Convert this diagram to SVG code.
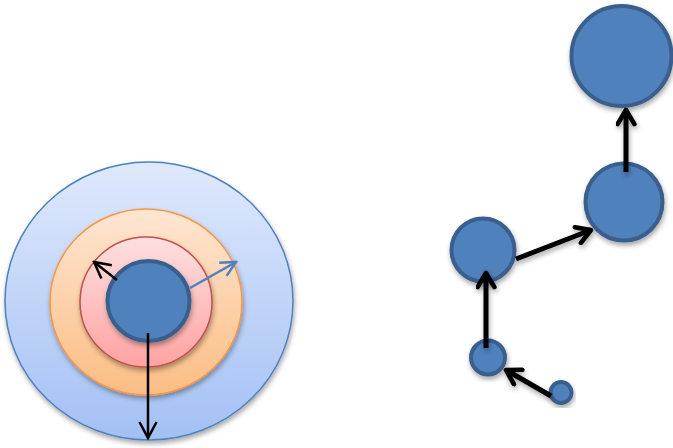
<svg xmlns="http://www.w3.org/2000/svg" width="673" height="448" viewBox="0 0 673 448">
<defs>
<linearGradient id="gBlue" x1="0" y1="0" x2="0" y2="1"><stop offset="0" stop-color="#dfe9fc"/><stop offset="1" stop-color="#a3c0f4"/></linearGradient>
<linearGradient id="gOrange" x1="0" y1="0" x2="0" y2="1"><stop offset="0" stop-color="#fee6d2"/><stop offset="1" stop-color="#fbbd83"/></linearGradient>
<linearGradient id="gPink" x1="0" y1="0" x2="0" y2="1"><stop offset="0" stop-color="#fee0e0"/><stop offset="1" stop-color="#ffa2a2"/></linearGradient>
<filter id="sh" x="-20%" y="-20%" width="140%" height="140%"><feDropShadow dx="1" dy="3" stdDeviation="2.5" flood-color="#000" flood-opacity="0.35"/></filter>
<marker id="aBlack" viewBox="0 0 20 20" refX="18" refY="10" markerWidth="20" markerHeight="20" markerUnits="userSpaceOnUse" orient="auto"><path d="M2,1.5 L18,10 L2,18.5" fill="none" stroke="#000" stroke-width="2.5"/></marker>
<marker id="aBlue" viewBox="0 0 20 20" refX="18" refY="10" markerWidth="20" markerHeight="20" markerUnits="userSpaceOnUse" orient="auto"><path d="M3,2.5 L18,10 L3,17.5" fill="none" stroke="#4f81bd" stroke-width="2.5"/></marker>
<marker id="aThick" viewBox="0 0 10 10" refX="8.5" refY="5" markerWidth="21" markerHeight="21" markerUnits="userSpaceOnUse" orient="auto"><path d="M1.8,1 L8.5,5 L1.8,9" fill="none" stroke="#000" stroke-width="2.2" stroke-linecap="round" stroke-linejoin="round"/></marker>
</defs>
<style>
.node{fill:#4f81bd;stroke:#3a5f8d;stroke-width:4;}
.thin{stroke:#000;stroke-width:2.5;fill:none;}
.thick{stroke:#000;stroke-width:5;fill:none;}
</style>
<g id="outer" filter="url(#sh)"><ellipse cx="149" cy="301" rx="144" ry="139" fill="url(#gBlue)" stroke="#4f81bd" stroke-width="1.5"/></g>
<g id="orange" filter="url(#sh)"><ellipse cx="146" cy="302" rx="96" ry="93" fill="url(#gOrange)" stroke="#f79646" stroke-width="1.5"/></g>
<g id="pink" filter="url(#sh)"><ellipse cx="146" cy="302" rx="66" ry="65" fill="url(#gPink)" stroke="#c0504d" stroke-width="1.5"/></g>
<g id="core" filter="url(#sh)"><ellipse class="node" cx="148.5" cy="301" rx="41" ry="40"/></g>
<g id="n1" filter="url(#sh)"><circle class="node" cx="621.5" cy="56" r="50"/></g>
<g id="n2" filter="url(#sh)"><circle class="node" cx="624" cy="202" r="38.5"/></g>
<g id="n3" filter="url(#sh)"><circle class="node" cx="483" cy="250" r="31.5"/></g>
<g id="n4" filter="url(#sh)"><circle class="node" cx="488" cy="357.5" r="17"/></g>
<g id="n5" filter="url(#sh)"><circle class="node" cx="561" cy="392.5" r="10.5"/></g>
<g id="connectors">
<line class="thin" x1="148" y1="333" x2="148" y2="438" marker-end="url(#aBlack)"/>
<line class="thin" x1="117" y1="280" x2="94" y2="262" marker-end="url(#aBlack)"/>
<line x1="190" y1="288" x2="236" y2="262" stroke="#4f81bd" stroke-width="2.5" marker-end="url(#aBlue)"/>
<g filter="url(#sh)">
<line class="thick" x1="551" y1="396" x2="506" y2="370" marker-end="url(#aThick)"/>
<line class="thick" x1="486" y1="348" x2="486" y2="273" marker-end="url(#aThick)"/>
<line class="thick" x1="516" y1="259" x2="591" y2="230" marker-end="url(#aThick)"/>
<line class="thick" x1="626" y1="172" x2="626" y2="110" marker-end="url(#aThick)"/>
</g>
</g>
</svg>
